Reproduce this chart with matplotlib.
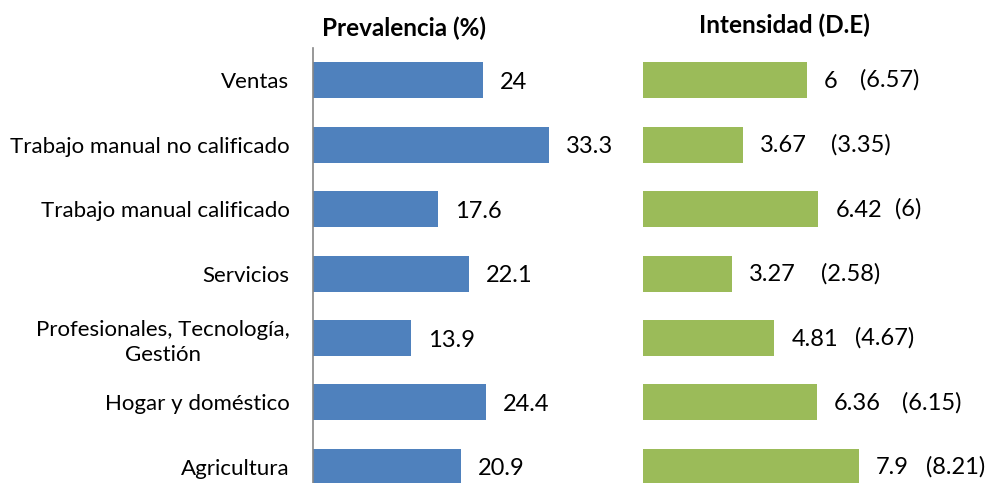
import matplotlib
matplotlib.use("Agg")
import matplotlib.pyplot as plt

categories = ["Ventas", "Trabajo manual no calificado", "Trabajo manual calificado",
              "Servicios", "Profesionales, Tecnología,\nGestión", "Hogar y doméstico",
              "Agricultura"]
prevalencia = [24, 33.3, 17.6, 22.1, 13.9, 24.4, 20.9]
prev_labels = ["24", "33.3", "17.6", "22.1", "13.9", "24.4", "20.9"]
intensidad = [6, 3.67, 6.42, 3.27, 4.81, 6.36, 7.9]
int_labels = ["6", "3.67", "6.42", "3.27", "4.81", "6.36", "7.9"]
sd_labels = ["(6.57)", "(3.35)", "(6)", "(2.58)", "(4.67)", "(6.15)", "(8.21)"]

plt.rcParams['font.family'] = ['Lato', 'DejaVu Sans']
FS = 16
VFS = 17

W, H = 991, 483
fig = plt.figure(figsize=(W / 100, H / 100), dpi=100)

def ax_rect(x0, x1, ytop, ybot):
    return [x0 / W, 1 - ybot / H, (x1 - x0) / W, (ybot - ytop) / H]

ax1 = fig.add_axes(ax_rect(313, 596, 48, 483))
ax2 = fig.add_axes(ax_rect(643, 916, 48, 483))

ypos = list(range(len(categories)))
ax1.barh(ypos, prevalencia, height=0.56, color="#4F81BD")
ax2.barh(ypos, intensidad, height=0.56, color="#9BBB59")

for ax, xmax in ((ax1, 40), (ax2, 10)):
    ax.set_xlim(0, xmax)
    ax.set_ylim(6.25, -0.5)
    for s in ax.spines.values():
        s.set_visible(False)
    ax.set_xticks([])
    ax.tick_params(axis='y', length=0)

ax1.spines['left'].set_visible(True)
ax1.spines['left'].set_color("#868686")
ax1.spines['left'].set_linewidth(1.2)
ax1.set_yticks(ypos)
ax1.set_yticklabels(categories, fontsize=FS, ha='right', multialignment='center',
                    linespacing=1.3)
ax1.tick_params(axis='y', pad=17)
ax2.set_yticks([])

for y, v, lab in zip(ypos, prevalencia, prev_labels):
    ax1.annotate(lab, (v, y), xytext=(17, -2), textcoords='offset pixels',
                 ha='left', va='center', fontsize=VFS, clip_on=False)

sd_offsets = [53, 88, 77, 89, 81, 85, 67]
for y, v, lab, sd, off in zip(ypos, intensidad, int_labels, sd_labels, sd_offsets):
    ax2.annotate(lab, (v, y), xytext=(17, -1), textcoords='offset pixels',
                 ha='left', va='center', fontsize=VFS, clip_on=False)
    ax2.annotate(sd, (v, y), xytext=(off, 0), textcoords='offset pixels',
                 ha='left', va='center', fontsize=VFS, clip_on=False)

fig.text(404 / W, 1 - 28 / H, "Prevalencia (%)", ha='center', va='center',
         fontsize=17.5, fontweight='bold')
fig.text(784 / W, 1 - 25 / H, "Intensidad (D.E)", ha='center', va='center',
         fontsize=17.5, fontweight='bold')

fig.savefig("out.png", dpi=100)
